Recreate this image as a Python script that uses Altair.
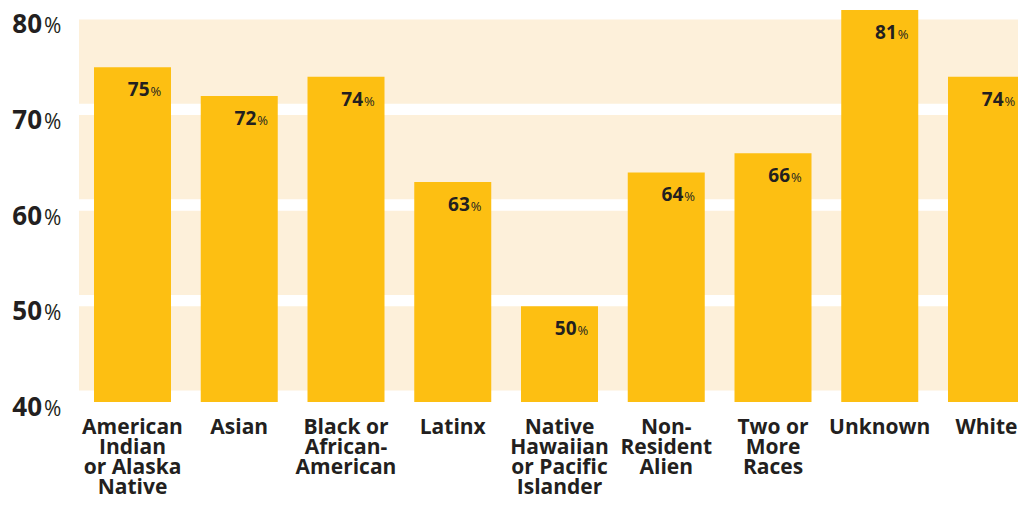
import altair as alt
import pandas as pd

categories = [
    "American|Indian|or Alaska|Native",
    "Asian",
    "Black or|African-|American",
    "Latinx",
    "Native|Hawaiian|or Pacific|Islander",
    "Non-|Resident|Alien",
    "Two or|More|Races",
    "Unknown",
    "White",
]
values = [75, 72, 74, 63, 50, 64, 66, 81, 74]

y_ticks = [40, 50, 60, 70, 80]
band_start = [41.2, 51.2, 61.2, 71.2]
band_end = [50, 60, 70, 80]

BAR = "#FDBF12"
BAND = "#FDF0DA"
INK = "#231F20"
FONT = "Open Sans"

W, H = 939, 394
YDOM = [40, 81.2]

df = pd.DataFrame({"cat": categories, "val": values,
                   "num": [str(v) for v in values], "pct": ["%"] * len(values)})
bands = pd.DataFrame({"s": band_start, "e": band_end})
ticks = pd.DataFrame({"t": y_ticks, "num": [str(t) for t in y_ticks], "pct": ["%"] * len(y_ticks)})

yscale = alt.Scale(domain=YDOM, nice=False, zero=False)
xscale = alt.Scale(domain=categories, paddingInner=0.2787, paddingOuter=0, range=[15, 946])

xaxis = alt.Axis(
    title=None, domain=False, ticks=False, grid=False, labelAngle=0,
    labelExpr="split(datum.value, '|')",
    labelFont=FONT, labelFontSize=21, labelFontWeight="bold", labelColor=INK,
    labelLineHeight=20, labelPadding=14, labelBaseline="top", labelAlign="center",
    labelLimit=0,
)

band_layer = alt.Chart(bands).mark_rect(color=BAND).encode(
    x=alt.value(0), x2=alt.value(946),
    y=alt.Y("s:Q", scale=yscale, axis=None), y2="e:Q",
)

bars = alt.Chart(df).mark_bar(color=BAR).encode(
    x=alt.X("cat:N", scale=xscale, axis=xaxis, sort=categories),
    y=alt.Y("val:Q", scale=yscale, axis=None),
    y2=alt.datum(40),
)

bar_num = alt.Chart(df).mark_text(
    font=FONT, fontSize=19, fontWeight="bold", color=INK,
    align="right", baseline="alphabetic", dx=17, dy=29,
).encode(
    x=alt.X("cat:N", scale=xscale, axis=xaxis, sort=categories),
    y=alt.Y("val:Q", scale=yscale, axis=None),
    text="num:N",
)

bar_pct = alt.Chart(df).mark_text(
    font=FONT, fontSize=13, fontWeight="normal", color=INK,
    align="left", baseline="alphabetic", dx=18, dy=29,
).encode(
    x=alt.X("cat:N", scale=xscale, axis=xaxis, sort=categories),
    y=alt.Y("val:Q", scale=yscale, axis=None),
    text="pct:N",
)

ylab_num = alt.Chart(ticks).mark_text(
    font=FONT, fontSize=26, fontWeight="bold", color=INK,
    align="right", baseline="alphabetic", dy=14,
).encode(
    x=alt.value(-37),
    y=alt.Y("t:Q", scale=yscale, axis=None),
    text="num:N",
)

ylab_pct = alt.Chart(ticks).mark_text(
    font=FONT, fontSize=21, fontWeight="normal", color=INK,
    align="left", baseline="alphabetic", dy=14,
).encode(
    x=alt.value(-35),
    y=alt.Y("t:Q", scale=yscale, axis=None),
    text="pct:N",
)

chart = alt.layer(band_layer, bars, bar_num, bar_pct, ylab_num, ylab_pct).properties(
    width=W, height=H,
    background="white",
    autosize=alt.AutoSizeParams(type="none"),
    padding={"left": 71, "top": 0, "right": 0, "bottom": 95},
).configure_view(strokeWidth=0, stroke="transparent")

chart.save("out.html", embed_options={"renderer": "svg", "actions": False})
